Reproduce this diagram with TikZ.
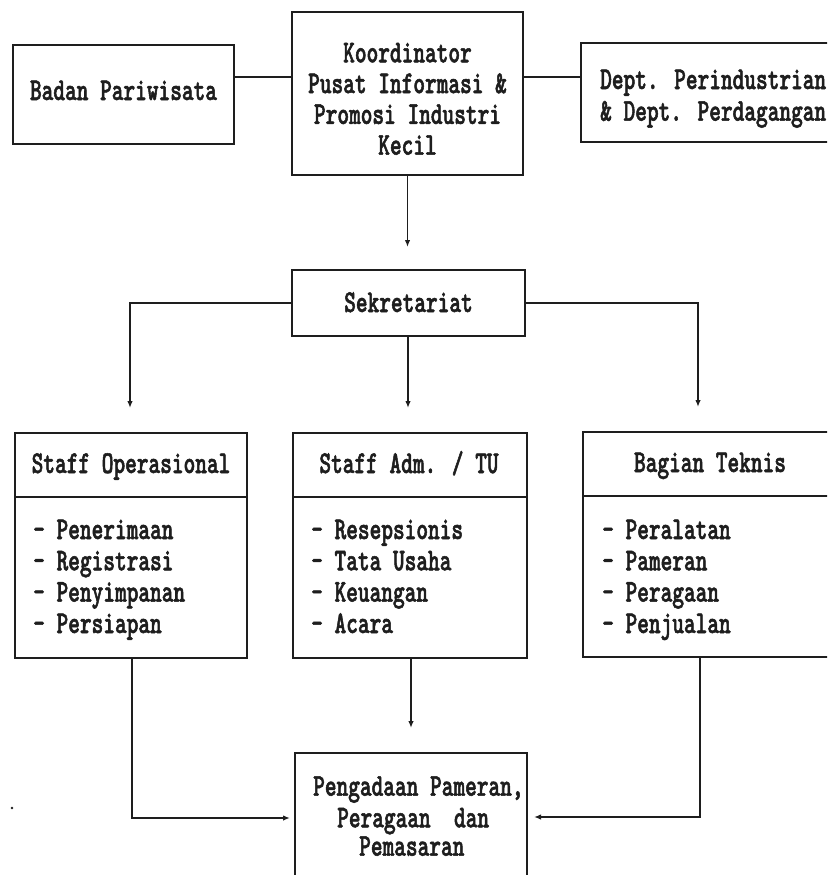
\documentclass[tikz,border=0pt]{standalone}
\usepackage{fontspec}
\newfontfamily\tw{lmmonolt10-bold}[Extension=.otf,FakeStretch=0.70,FakeBold=1.6]
\usetikzlibrary{arrows.meta}
\definecolor{ink}{HTML}{1e1e1e}
\begin{document}
\begin{tikzpicture}[x=1pt,y=-1pt,
  box/.style={draw=ink, line width=1.8pt, inner sep=0pt, rectangle},
  conn/.style={draw=ink, line width=1.5pt},
  arr/.style={conn, -{Latex[length=7pt,width=5.5pt]}},
  txt/.style={inner sep=0pt, text=ink, font=\tw\fontsize{31.8}{32}\selectfont},
  ctr/.style={txt, anchor=base},
  lft/.style={txt, anchor=base west}]
\clip (0,0) rectangle (827,875);
\useasboundingbox (0,0) rectangle (827,875);

% boxes
\node[box, minimum width=221, minimum height=99]  (badan) at (123.5,94.5) {};
\node[box, minimum width=231, minimum height=163] (koord) at (407.5,93.5) {};
\node[box, minimum width=264, minimum height=99]  (dept)  at (713,92.5) {};
\node[box, minimum width=233, minimum height=66]  (sek)   at (408.5,303) {};
\node[box, minimum width=232, minimum height=225] (op)    at (131,545.5) {};
\node[box, minimum width=234, minimum height=225] (adm)   at (410,545.5) {};
\node[box, minimum width=262, minimum height=225] (bag)   at (714,544.5) {};
\node[box, minimum width=232, minimum height=147] (peng)  at (411,826.5) {};

% dividers
\coordinate (dv1) at (0,497);
\coordinate (dv2) at (0,496);
\draw[box] (op.west |- dv1) -- (op.east |- dv1);
\draw[box] (adm.west |- dv1) -- (adm.east |- dv1);
\draw[box] (bag.west |- dv2) -- (bag.east |- dv2);

% texts
\node[ctr] (tbadan) at (123.5,100) {Badan Pariwisata};
\node[ctr] (tk1) at (407.5,62.3) {Koordinator};
\node[ctr] (tk2) at (407.5,93.1) {Pusat Informasi \&};
\node[ctr] (tk3) at (407.5,123.9) {Promosi Industri};
\node[ctr] (tk4) at (407.5,154.7) {Kecil};
\node[lft] (td1) at (600,89) {Dept. Perindustrian};
\node[lft] (td2) at (600,120.7) {\& Dept. Perdagangan};
\node[ctr] (tsek) at (408.5,312) {Sekretariat};

\node[ctr] (hop)  at (131,473) {Staff Operasional};
\node[ctr] (hadm) at (409,473) {Staff Adm. / TU};
\node[ctr] (hbag) at (710,472) {Bagian Teknis};

\node[lft] (o1) at (33,539)   {- Penerimaan};
\node[lft] (o2) at (33,570.3) {- Registrasi};
\node[lft] (o3) at (33,601.6) {- Penyimpanan};
\node[lft] (o4) at (33,633)   {- Persiapan};

\node[lft] (a1t) at (311,539)   {- Resepsionis};
\node[lft] (a2t) at (311,570.3) {- Tata Usaha};
\node[lft] (a3t) at (311,601.6) {- Keuangan};
\node[lft] (a4t) at (311,633)   {- Acara};

\node[lft] (b1) at (602,539)   {- Peralatan};
\node[lft] (b2) at (602,570.3) {- Pameran};
\node[lft] (b3) at (602,601.6) {- Peragaan};
\node[lft] (b4) at (602,633)   {- Penjualan};

\node[lft] (p1) at (313,795.7) {Pengadaan Pameran,};
\node[lft] (p2) at (337,827.3) {Peragaan\hphantom{00}dan};
\node[lft] (p3) at (359,855.7) {Pemasaran};

% connectors
\coordinate (yA) at (0,77);
\draw[conn] (badan.east |- yA) -- (koord.west |- yA);
\draw[conn] (koord.east |- yA) -- (dept.west |- yA);

\coordinate (e1) at (407.5,247);
\draw[arr] (koord.south) -- (e1);

\coordinate (bL) at (130,408);
\coordinate (bM) at (408,408);
\coordinate (bR) at (698,407);
\draw[arr] (sek.west) -| (bL);
\draw[arr] (sek.south -| bM) -- (bM);
\draw[arr] (sek.east) -| (bR);

\coordinate (xL) at (132,0);
\coordinate (xR) at (700,0);
\coordinate (cL) at (290,818);
\coordinate (cM) at (411,728);
\coordinate (cR) at (534,817);
\draw[arr] (op.south -| xL) |- (cL);
\draw[arr] (adm.south -| cM) -- (cM);
\draw[arr] (bag.south -| xR) |- (cR);

\fill[ink] (12,808) circle (1.3);
\end{tikzpicture}
\end{document}
